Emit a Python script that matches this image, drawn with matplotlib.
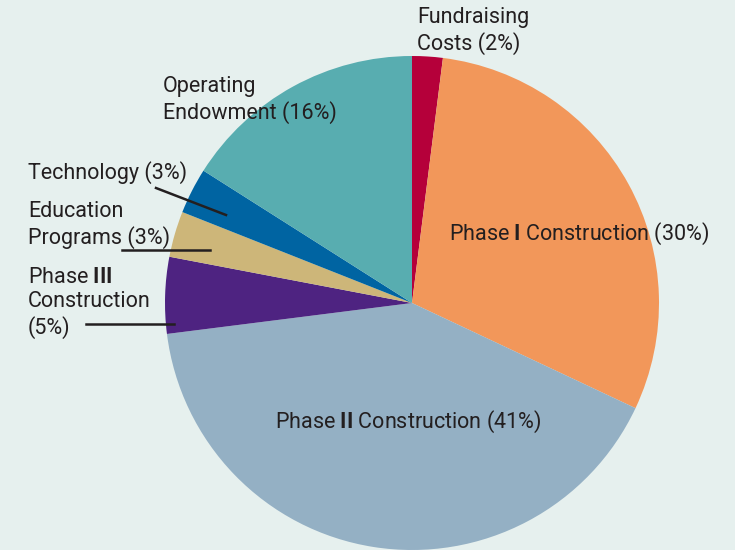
import matplotlib
matplotlib.use('Agg')
import matplotlib.pyplot as plt

# slice data, clockwise from the top
categories = ['Fundraising\nCosts (%d%%)', 'Phase $\\mathbf{I}$ Construction (%d%%)',
              'Phase $\\mathbf{II}$ Construction (%d%%)',
              'Phase $\\mathbf{III}$\nConstruction\n(%d%%)',
              'Education\nPrograms (%d%%)', 'Technology (%d%%)',
              'Operating\nEndowment (%d%%)']
shares = [2, 30, 41, 5, 3, 3, 16]
colors = ['#b5003a', '#f2975a', '#94b0c4', '#4e2381', '#cdb679', '#0064a2', '#58adb0']

bg = '#e6f0ee'
W, H = 735, 550

plt.rcParams['mathtext.fontset'] = 'custom'
plt.rcParams['mathtext.rm'] = 'Roboto'
plt.rcParams['mathtext.bf'] = 'Roboto:bold'

fig = plt.figure(figsize=(7.35, 5.5), dpi=100, facecolor=bg)
ax = fig.add_axes([0, 0, 1, 1])
ax.set_facecolor(bg)

cx, cy, r = 412, H - 303, 247
ax.pie(shares, colors=colors, startangle=90, counterclock=False,
       center=(cx, cy), radius=r, frame=True,
       wedgeprops={'linewidth': 0})
ax.set_xlim(0, W)
ax.set_ylim(0, H)
ax.set_aspect('equal')
ax.axis('off')

tc = '#231f20'
kw = dict(fontsize=15.5, color=tc, family='Roboto', linespacing=1.2,
          va='center', ha='left')

# label anchor (left x, centre y in pixels from top) for each slice
label_pos = [(417, 31), (449, 234), (275, 422), (28, 303), (28, 225), (28, 173), (163, 100)]
for cat, s, (x, y) in zip(categories, shares, label_pos):
    ax.text(x, H - y, cat % s, **kw)

# leader lines
ax.plot([156, 226], [H - 188, H - 215], color=tc, lw=1.8)
ax.plot([122, 210], [H - 250, H - 250], color=tc, lw=1.8)
ax.plot([86, 174], [H - 324, H - 324], color=tc, lw=1.8)

fig.savefig('out.png', dpi=100, facecolor=bg)
